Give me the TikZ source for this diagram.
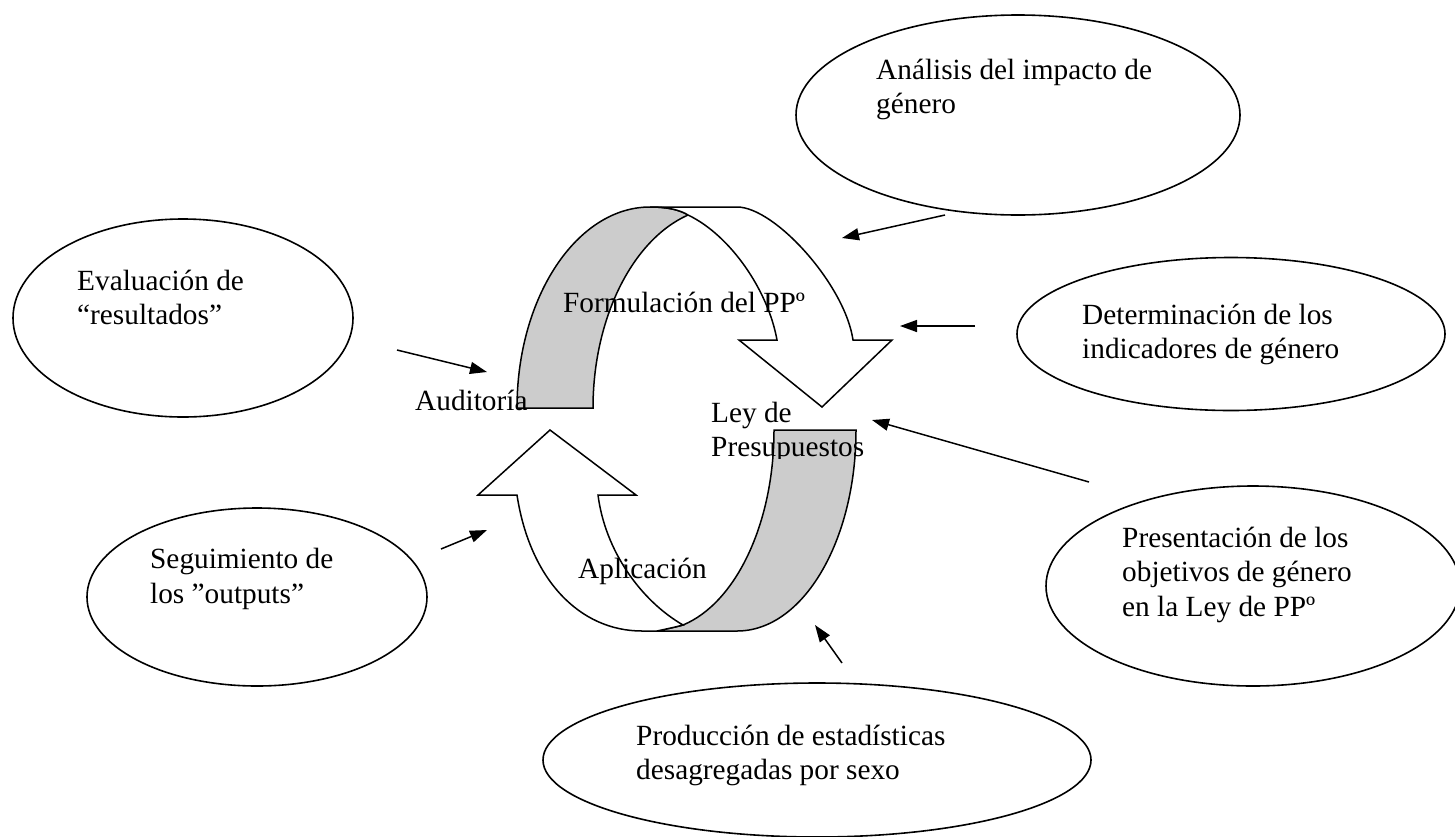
\documentclass[tikz,border=0pt]{standalone}
\usepackage{fontspec}
\setmainfont{Liberation Serif}
\usetikzlibrary{shapes.geometric,arrows.meta}
\definecolor{bandgray}{RGB}{204,204,204}
\begin{document}
\begin{tikzpicture}[x=1pt,y=-1pt,
  bubble/.style={draw, line width=1.6pt, ellipse, inner sep=0pt},
  lbl/.style={font=\fontsize{29.3}{34.5}\selectfont, align=left, anchor=base west, inner sep=0pt},
  conn/.style={line width=1.5pt, -{Triangle[length=17pt,width=12pt]}},
  band/.style={draw, line width=1.5pt, line join=miter},
]
\useasboundingbox (0,0) rectangle (1455,836);

% ellipses
\node[bubble, minimum width=444pt, minimum height=200pt] (e1) at (1018,115) {};
\node[bubble, minimum width=340pt, minimum height=198pt] (e2) at (183,318) {};
\node[bubble, minimum width=428pt, minimum height=153pt] (e3) at (1231,334) {};
\node[bubble, minimum width=340pt, minimum height=178pt] (e4) at (257,597) {};
\node[bubble, minimum width=414pt, minimum height=200pt] (e5) at (1253,586) {};
\node[bubble, minimum width=548pt, minimum height=154pt] (e6) at (817,760) {};

% top curved arrow (back band, then front band)
\filldraw[band, fill=bandgray] (517,408) .. controls (517,297) and (577,207) .. (650,207)
  .. controls (668,207) and (680,210) .. (688,215)
  .. controls (632,240) and (593,319) .. (593,408) -- cycle;
\filldraw[band, fill=white] (650,207) -- (737,207) .. controls (775,207) and (845,285) .. (853,340)
  -- (892,340) -- (822,407) -- (739,340) -- (777,340)
  .. controls (768,290) and (730,235) .. (688,215)
  .. controls (680,210) and (668,207) .. (650,207) -- cycle;

% bottom curved arrow
\filldraw[band, fill=bandgray] (774,430) -- (856,430) .. controls (856,541) and (803,631) .. (737,631)
  -- (657,631) .. controls (666,629) and (676,627) .. (683,625)
  .. controls (736,603) and (774,523) .. (774,430) -- cycle;
\filldraw[band, fill=white] (517,495) .. controls (530,580) and (580,631) .. (642,631)
  -- (657,631) .. controls (666,629) and (676,627) .. (683,625)
  .. controls (640,600) and (605,550) .. (598,495)
  -- (636,495) -- (550,430) -- (478,495) -- cycle;

% labels in ellipses (base = baseline of the last line)
\node[lbl] (t1) at (876,113.5) {Análisis del impacto de\\género};
\node[lbl] (t2) at (77,324.5) {Evaluación de\\“resultados”};
\node[lbl] (t3) at (1082,358.5) {Determinación de los\\indicadores de género};
\node[lbl] (t4) at (150,603) {Seguimiento de\\los ”outputs”};
\node[lbl] (t5) at (1122,616) {Presentación de los\\objetivos de género\\en la Ley de PPº};
\node[lbl] (t6) at (636,779.5) {Producción de estadísticas\\desagregadas por sexo};

% labels of the cycle
\node[lbl] (tf) at (563,312) {Formulación del PPº};
\node[lbl] (ta) at (415,410) {Auditoría};
\begin{scope}
  \clip (700,380) rectangle (900,458);
  \node[lbl] (tl) at (711,456.5) {Ley de\\Presupuestos};
\end{scope}
\node[lbl] (tp) at (578,578) {Aplicación};

% connectors
\coordinate (a1s) at (945,215); \coordinate (a1e) at (842,238);
\coordinate (a2s) at (975,326); \coordinate (a2e) at (900,326);
\coordinate (a3s) at (1089,482); \coordinate (a3e) at (872,420);
\coordinate (a4s) at (842,663); \coordinate (a4e) at (815,625);
\coordinate (a5s) at (397,350); \coordinate (a5e) at (487,372);
\coordinate (a6s) at (441,549); \coordinate (a6e) at (487,530);
\draw[conn] (a1s) -- (a1e);
\draw[conn] (a2s) -- (a2e);
\draw[conn] (a3s) -- (a3e);
\draw[conn] (a4s) -- (a4e);
\draw[conn] (a5s) -- (a5e);
\draw[conn] (a6s) -- (a6e);
\end{tikzpicture}
\end{document}
